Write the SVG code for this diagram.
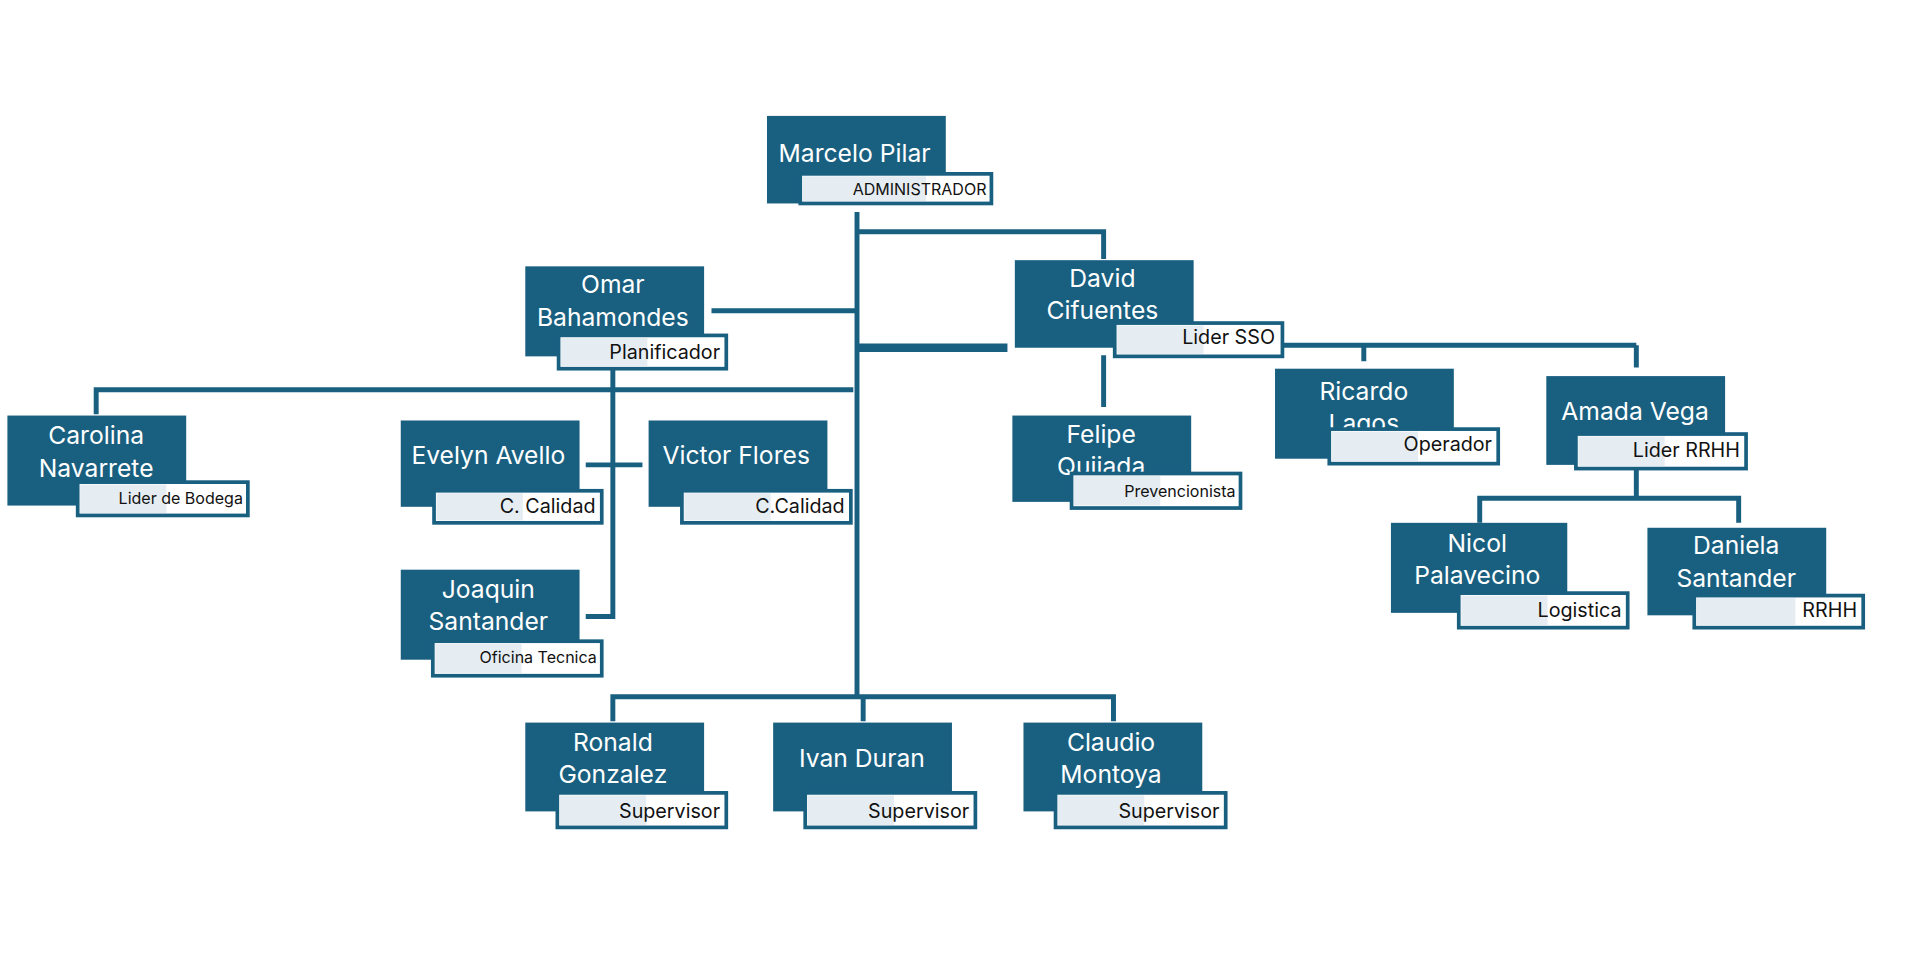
<svg xmlns="http://www.w3.org/2000/svg" width="1920" height="972" viewBox="0 0 1920 972">
<style>
.b{fill:#195f80}
.l{fill:#fff;stroke:#195f80;stroke-width:3}
.g{fill:#e6edf2}
.n{fill:#fff;font-family:Inter,"Liberation Sans",sans-serif;font-size:20px;text-anchor:middle}
.t{fill:#111;font-family:Inter,"Liberation Sans",sans-serif;font-size:16px;text-anchor:end}
.s{font-size:13px}
.c{fill:none;stroke:#195f80;stroke-width:4}
</style>
<rect width="1920" height="972" fill="#fff"/>
<g transform="scale(1.2331)">
<g id="connectors" class="c">
<path d="M695 172V565M695 188H895V210M577 252H695M497 289V500H475M78 336V316H692M475 377H521M1040 280H1327M1106 280V293M1327 280V298M895 288V330M1327 380V404M1200 424V404H1410V424M497 585V565H903V585M700 565V585"/>
<path d="M695 282H817" stroke-width="7"/>
</g>
<g id="marcelo"><rect class="b" x="622" y="94" width="145" height="71"/><text class="n" x="693" y="131">Marcelo Pilar</text><rect class="l" x="649" y="141" width="155" height="24"/><rect class="g" x="651" y="143" width="100" height="20"/><text class="t s" x="800" y="158">ADMINISTRADOR</text></g>
<g id="omar"><rect class="b" x="426" y="216" width="145" height="73"/><text class="n" x="497" y="238">Omar</text><text class="n" x="497" y="264">Bahamondes</text><rect class="l" x="453" y="272" width="136" height="27"/><rect class="g" x="455" y="274" width="70" height="23"/><text class="t" x="584" y="291">Planificador</text></g>
<g id="david"><rect class="b" x="823" y="211" width="145" height="71"/><text class="n" x="894" y="233">David</text><text class="n" x="894" y="259">Cifuentes</text><rect class="l" x="904" y="262" width="136" height="27"/><rect class="g" x="906" y="264" width="70" height="23"/><text class="t" x="1034" y="279">Lider SSO</text></g>
<g id="carolina"><rect class="b" x="6" y="337" width="145" height="73"/><text class="n" x="78" y="360">Carolina</text><text class="n" x="78" y="387">Navarrete</text><rect class="l" x="63" y="391" width="138" height="27"/><rect class="g" x="65" y="393" width="70" height="23"/><text class="t s" x="197" y="409">Lider de Bodega</text></g>
<g id="evelyn"><rect class="b" x="325" y="341" width="145" height="70"/><text class="n" x="396" y="376">Evelyn Avello</text><rect class="l" x="352" y="398" width="136" height="26"/><rect class="g" x="354" y="400" width="70" height="22"/><text class="t" x="483" y="416">C. Calidad</text></g>
<g id="victor"><rect class="b" x="526" y="341" width="145" height="70"/><text class="n" x="597" y="376">Victor Flores</text><rect class="l" x="553" y="398" width="137" height="26"/><rect class="g" x="555" y="400" width="70" height="22"/><text class="t" x="685" y="416">C.Calidad</text></g>
<g id="joaquin"><rect class="b" x="325" y="462" width="145" height="73"/><text class="n" x="396" y="485">Joaquin</text><text class="n" x="396" y="511">Santander</text><rect class="l" x="351" y="520" width="137" height="28"/><rect class="g" x="353" y="522" width="70" height="24"/><text class="t s" x="484" y="538">Oficina  Tecnica</text></g>
<g id="felipe"><rect class="b" x="821" y="337" width="145" height="70"/><text class="n" x="893" y="359">Felipe</text><text class="n" x="893" y="385">Quijada</text><rect class="l" x="869" y="384" width="137" height="28"/><rect class="g" x="871" y="386" width="70" height="24"/><text class="t s" x="1002" y="403">Prevencionista</text></g>
<g id="ricardo"><rect class="b" x="1034" y="299" width="145" height="73"/><text class="n" x="1106" y="324">Ricardo</text><text class="n" x="1106" y="350">Lagos</text><rect class="l" x="1078" y="348" width="137" height="28"/><rect class="g" x="1080" y="350" width="70" height="24"/><text class="t" x="1210" y="366">Operador</text></g>
<g id="amada"><rect class="b" x="1254" y="305" width="145" height="72"/><text class="n" x="1326" y="341">Amada Vega</text><rect class="l" x="1278" y="352" width="138" height="28"/><rect class="g" x="1280" y="354" width="70" height="24"/><text class="t" x="1411" y="371">Lider RRHH</text></g>
<g id="nicol"><rect class="b" x="1128" y="424" width="143" height="73"/><text class="n" x="1198" y="448">Nicol</text><text class="n" x="1198" y="474">Palavecino</text><rect class="l" x="1183" y="481" width="137" height="28"/><rect class="g" x="1185" y="483" width="70" height="24"/><text class="t" x="1315" y="500">Logistica</text></g>
<g id="daniela"><rect class="b" x="1336" y="428" width="145" height="71"/><text class="n" x="1408" y="449">Daniela</text><text class="n" x="1408" y="476">Santander</text><rect class="l" x="1374" y="483" width="137" height="26"/><rect class="g" x="1376" y="485" width="80" height="22"/><text class="t" x="1506" y="500">RRHH</text></g>
<g id="ronald"><rect class="b" x="426" y="586" width="145" height="72"/><text class="n" x="497" y="609">Ronald</text><text class="n" x="497" y="635">Gonzalez</text><rect class="l" x="452" y="643" width="137" height="28"/><rect class="g" x="454" y="645" width="70" height="24"/><text class="t" x="584" y="663">Supervisor</text></g>
<g id="ivan"><rect class="b" x="627" y="586" width="145" height="72"/><text class="n" x="699" y="622">Ivan Duran</text><rect class="l" x="653" y="643" width="138" height="28"/><rect class="g" x="655" y="645" width="70" height="24"/><text class="t" x="786" y="663">Supervisor</text></g>
<g id="claudio"><rect class="b" x="830" y="586" width="145" height="72"/><text class="n" x="901" y="609">Claudio</text><text class="n" x="901" y="635">Montoya</text><rect class="l" x="856" y="643" width="138" height="28"/><rect class="g" x="858" y="645" width="70" height="24"/><text class="t" x="989" y="663">Supervisor</text></g>
</g>
</svg>
